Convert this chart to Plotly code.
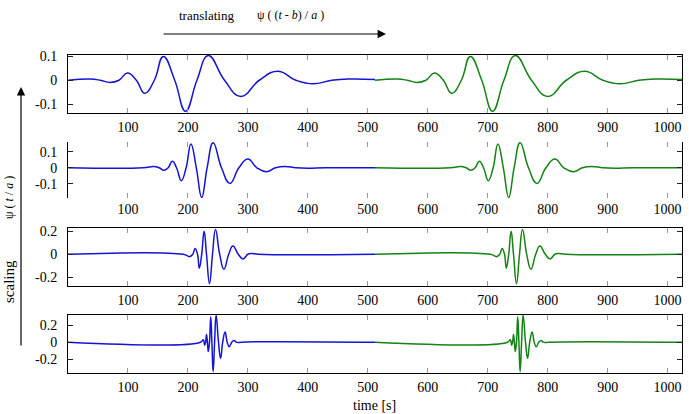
import plotly.graph_objects as go

# ---------------- data ----------------
# panel 1 (largest scale)
p1_blue_t = [0, 37, 54, 70, 85, 99, 114, 128, 144, 159, 178, 196, 215, 234, 261, 288, 319, 350, 380, 409, 440, 470, 512]
p1_blue_v = [0, 0.005, 0, -0.009, 0, 0.03, 0, -0.055, 0, 0.1, 0, -0.13, 0, 0.104, 0, -0.068, 0, 0.038, 0, -0.015, 0, 0.005, 0.003]
p1_green_t = [512, 549, 566, 582, 597, 611, 626, 640, 656, 671, 690, 708, 727, 746, 773, 800, 831, 862, 892, 921, 952, 982, 1024]
p1_green_v = [0, 0.005, 0, -0.009, 0, 0.03, 0, -0.055, 0, 0.1, 0, -0.13, 0, 0.104, 0, -0.068, 0, 0.038, 0, -0.015, 0, 0.005, 0.003]

# panel 2
p2_blue_t = [0, 125, 143, 152, 160, 167, 174, 181, 189, 197, 205, 214, 223, 232, 242, 256, 270, 285, 300, 315, 331, 346, 362, 380, 400, 430, 512]
p2_blue_v = [0, 0, 0.008, 0, -0.016, 0, 0.041, 0, -0.08, 0, 0.148, 0, -0.185, 0, 0.155, 0, -0.097, 0, 0.054, 0, -0.025, 0, 0.008, 0, -0.003, 0, 0]
p2_green_t = [512, 637, 655, 664, 672, 679, 686, 693, 701, 709, 717, 726, 735, 744, 754, 768, 782, 797, 812, 827, 843, 858, 874, 892, 912, 942, 1024]
p2_green_v = [0, 0, 0.008, 0, -0.016, 0, 0.041, 0, -0.08, 0, 0.148, 0, -0.185, 0, 0.155, 0, -0.097, 0, 0.054, 0, -0.025, 0, 0.008, 0, -0.003, 0, 0]

# panel 3
p3_blue_t = [0, 192, 203, 208, 212, 216, 219, 223, 227, 231, 236, 241, 246, 253, 260, 268, 275, 284, 292, 300, 307, 318, 512]
p3_blue_v = [0, 0, -0.02, 0, 0.05, 0, -0.12, 0, 0.2, 0, -0.255, 0, 0.215, 0, -0.13, 0, 0.072, 0, -0.04, 0, 0.006, 0, 0]
p3_green_t = [512, 704, 715, 720, 724, 728, 731, 735, 739, 743, 748, 753, 758, 765, 772, 780, 787, 796, 804, 812, 819, 830, 1024]
p3_green_v = [0, 0, -0.02, 0, 0.05, 0, -0.12, 0, 0.2, 0, -0.255, 0, 0.215, 0, -0.13, 0, 0.072, 0, -0.04, 0, 0.006, 0, 0]

# panel 4 (smallest scale)
p4_blue_t = [0, 221, 225.5, 227, 228, 229.5, 231, 232.5, 234, 236, 238, 240, 242, 244.5, 247, 251, 254.5, 258, 262, 265.5, 269, 273, 277, 280.5, 284, 289, 512]
p4_blue_v = [0, 0, 0.03, 0, -0.035, 0, 0.09, 0, -0.11, 0, 0.3, 0, -0.35, 0, 0.32, 0, -0.19, 0, 0.12, 0, -0.055, 0, 0.02, 0, -0.005, 0, 0]
p4_green_t = [512, 733, 737.5, 739, 740, 741.5, 743, 744.5, 746, 748, 750, 752, 754, 756.5, 759, 763, 766.5, 770, 774, 777.5, 781, 785, 789, 792.5, 796, 801, 1024]
p4_green_v = [0, 0, 0.03, 0, -0.035, 0, 0.09, 0, -0.11, 0, 0.3, 0, -0.35, 0, 0.32, 0, -0.19, 0, 0.12, 0, -0.055, 0, 0.02, 0, -0.005, 0, 0]

x_tickvals = [100, 200, 300, 400, 500, 600, 700, 800, 900, 1000]
x_ticktext = ["100", "200", "300", "400", "500", "600", "700", "800", "900", "1000"]
y_tickvals_small = [-0.1, 0, 0.1]
y_ticktext_small = ["-0.1", "0", "0.1"]
y_tickvals_large = [-0.2, 0, 0.2]
y_ticktext_large = ["-0.2", "0", "0.2"]

y_ranges = [[-0.1375, 0.106], [-0.1875, 0.16], [-0.275, 0.228], [-0.365, 0.322]]

# ---------------- figure ----------------
W, H = 689, 414
L, R, T, B = 68, 7, 55, 41
ph = H - T - B
panels_px = [(55, 113), (142, 198), (228, 286), (315, 373)]
def ydom(top, bot):
    return [(H - B - bot) / ph, (H - B - top) / ph]

BLUE = "#1414d2"
GREEN = "#148214"
FONT = "'Liberation Serif', 'Times New Roman', Times, serif"

series = [
    (p1_blue_t, p1_blue_v, p1_green_t, p1_green_v),
    (p2_blue_t, p2_blue_v, p2_green_t, p2_green_v),
    (p3_blue_t, p3_blue_v, p3_green_t, p3_green_v),
    (p4_blue_t, p4_blue_v, p4_green_t, p4_green_v),
]

fig = go.Figure()
# which axis lines are visible in the reference
xline = [True, False, True, True]
xmirror_line = [True, False, True, False]
yline = [True, True, True, True]
ymirror_line = [True, False, True, False]

for i, (bt, bv, gt, gv) in enumerate(series):
    k = "" if i == 0 else str(i + 1)
    fig.add_trace(go.Scatter(x=bt, y=bv, mode="lines", line=dict(color=BLUE, width=1.5, shape="spline", smoothing=1.3),
                             xaxis="x" + k, yaxis="y" + k, showlegend=False, hoverinfo="skip"))
    fig.add_trace(go.Scatter(x=gt, y=gv, mode="lines", line=dict(color=GREEN, width=1.5, shape="spline", smoothing=1.3),
                             xaxis="x" + k, yaxis="y" + k, showlegend=False, hoverinfo="skip"))
    yt = y_tickvals_small if i < 2 else y_tickvals_large
    ytt = y_ticktext_small if i < 2 else y_ticktext_large
    xa = dict(domain=[0, 1], range=[0, 1024], tickvals=x_tickvals, ticktext=x_ticktext,
              ticks="inside", ticklen=5, tickcolor="#999999", tickwidth=1,
              showline=xline[i], linecolor="black", linewidth=1,
              mirror=("all" if xmirror_line[i] else "ticks"),
              showgrid=False, zeroline=False, anchor="y" + k,
              tickfont=dict(family=FONT, size=14, color="black"), ticklabelstandoff=1)
    ya = dict(domain=ydom(*panels_px[i]), range=y_ranges[i], tickvals=yt, ticktext=ytt,
              ticks="inside", ticklen=5, tickcolor="#222222", tickwidth=1,
              showline=yline[i], linecolor="black", linewidth=1,
              mirror=("all" if ymirror_line[i] else "ticks"),
              showgrid=False, zeroline=False, anchor="x" + k,
              tickfont=dict(family=FONT, size=14, color="black"), ticklabelstandoff=7)
    fig.layout["xaxis" + k] = xa
    fig.layout["yaxis" + k] = ya

def px_x(px):
    return (px - L) / (W - L - R)
def px_y(py):
    return (H - B - py) / ph

C = dict(xref="paper", yref="paper", xanchor="center", yanchor="middle")
ann = [
    dict(text="translating", x=px_x(206), y=px_y(16), showarrow=False,
         font=dict(family=FONT, size=13, color="black"), **C),
    dict(text="ψ ( (<i>t</i> - <i>b</i>) / <i>a</i> )", x=px_x(290), y=px_y(15), showarrow=False,
         font=dict(family=FONT, size=12, color="black"), **C),
    dict(text="", x=px_x(386), y=px_y(34), showarrow=True,
         ax=-224, ay=0, arrowhead=2, arrowsize=1.4, arrowwidth=1.2, arrowcolor="black", **C),
    dict(text="", x=px_x(21), y=px_y(87), showarrow=True,
         ax=0, ay=260, arrowhead=2, arrowsize=1.4, arrowwidth=1.2, arrowcolor="black", **C),
    dict(text="scaling", x=px_x(9), y=px_y(282), showarrow=False, textangle=-90,
         font=dict(family=FONT, size=15, color="black"), **C),
    dict(text="ψ ( <i>t</i> / <i>a</i> )", x=px_x(9), y=px_y(198), showarrow=False, textangle=-90,
         font=dict(family=FONT, size=12, color="black"), **C),
    dict(text="time [s]", x=px_x(374), y=px_y(405), showarrow=False,
         font=dict(family=FONT, size=14, color="black"), **C),
]

fig.update_layout(width=W, height=H, margin=dict(l=L, r=R, t=T, b=B, pad=0),
                  paper_bgcolor="white", plot_bgcolor="white", annotations=ann,
                  font=dict(family=FONT, color="black"))

fig.write_html("out.html", config={"displayModeBar": False})
